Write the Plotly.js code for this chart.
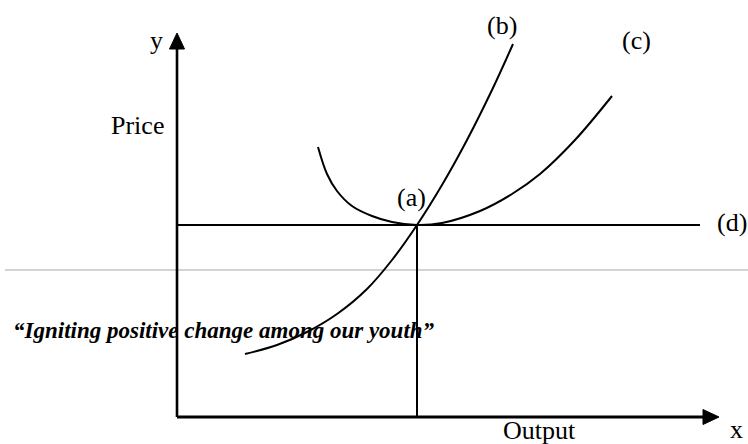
<!DOCTYPE html>
<html>
<head>
<meta charset="utf-8">
<script src="https://cdn.plot.ly/plotly-3.0.1.min.js"></script>
<style>html,body{margin:0;padding:0;background:#fff;}#chart{width:748px;height:444px;}</style>
</head>
<body>
<div id="chart"></div>
<script>
// Curve (b): rising, convex cost curve
const curveBOutput = [68, 100, 130, 160, 190, 215, 240, 265, 290, 315, 336];
const curveBPrice  = [63, 72, 85, 103, 128, 157, 192, 232, 277, 327, 373];
// Curve (c): U-shaped curve with its minimum at (a)
const curveCOutput = [141, 150, 160, 175, 195, 215, 240, 265, 303, 335, 363, 398, 435];
const curveCPrice  = [270, 243, 226, 211, 201, 195, 192, 194, 206, 223, 243, 277, 321];
// Line (d): price level, and equilibrium output at (a)
const priceLevel = 192;
const equilibriumOutput = 240;
const lineDEnd = 523;
// Axes extents
const xAxisEnd = 542;
const yAxisEnd = 384;
// Page separator level
const separatorLevel = 147;

const black = '#000000';
const traces = [];

// page separator (grey rule)
traces.push({x: [-172, 571], y: [separatorLevel, separatorLevel], mode: 'lines',
  line: {color: '#d3d3d3', width: 2}, hoverinfo: 'skip'});

// axes
traces.push({x: [0, 0], y: [0, yAxisEnd - 12], mode: 'lines', line: {color: black, width: 2.6}, hoverinfo: 'skip'});
traces.push({x: [0, xAxisEnd - 12], y: [0, 0], mode: 'lines', line: {color: black, width: 2.8}, hoverinfo: 'skip'});
// arrowheads
const ah = 16, aw = 7.5;
traces.push({x: [-aw, 0, aw, -aw], y: [yAxisEnd - ah, yAxisEnd, yAxisEnd - ah, yAxisEnd - ah],
  mode: 'lines', fill: 'toself', fillcolor: black, line: {color: black, width: 1}, hoverinfo: 'skip'});
traces.push({x: [xAxisEnd - ah, xAxisEnd, xAxisEnd - ah, xAxisEnd - ah], y: [-aw, 0, aw, -aw],
  mode: 'lines', fill: 'toself', fillcolor: black, line: {color: black, width: 1}, hoverinfo: 'skip'});

// line (d)
traces.push({x: [0, lineDEnd], y: [priceLevel, priceLevel], mode: 'lines', line: {color: black, width: 2}, hoverinfo: 'skip'});
// vertical drop at equilibrium output
traces.push({x: [equilibriumOutput, equilibriumOutput], y: [0, priceLevel], mode: 'lines', line: {color: black, width: 2}, hoverinfo: 'skip'});
// curve (c)
traces.push({x: curveCOutput, y: curveCPrice, mode: 'lines', line: {color: black, width: 2, shape: 'spline', smoothing: 1}, hoverinfo: 'skip'});
// curve (b)
traces.push({x: curveBOutput, y: curveBPrice, mode: 'lines', line: {color: black, width: 2, shape: 'spline', smoothing: 1}, hoverinfo: 'skip'});

const serif = {family: 'Liberation Serif, Times New Roman, serif', size: 26, color: black};
function lab(text, x, y, xanchor, font) {
  return {text: text, x: x, y: y, xref: 'x', yref: 'y', showarrow: false,
    xanchor: xanchor || 'center', yanchor: 'middle', font: font || serif};
}
const annotations = [
  lab('y', -21, 377),
  lab('Price', -40, 292),
  lab('(b)', 325, 392),
  lab('(c)', 459, 377),
  lab('(a)', 234, 220),
  lab('(d)', 538, 195, 'left'),
  lab('Output', 362, -13),
  lab('x', 559, -12),
  lab('\u201cIgniting positive change among our youth\u201d', -166, 87, 'left',
    {family: 'Liberation Serif, serif', size: 23, color: black, style: 'italic', weight: 'bold'})
];

const layout = {
  width: 748, height: 444,
  margin: {l: 0, r: 0, t: 0, b: 0, pad: 0},
  paper_bgcolor: '#ffffff', plot_bgcolor: '#ffffff',
  showlegend: false,
  xaxis: {range: [-177, 571], visible: false, fixedrange: true},
  yaxis: {range: [-27, 417], visible: false, fixedrange: true},
  annotations: annotations
};
Plotly.newPlot('chart', traces, layout, {staticPlot: true, displayModeBar: false});
</script>
</body>
</html>
